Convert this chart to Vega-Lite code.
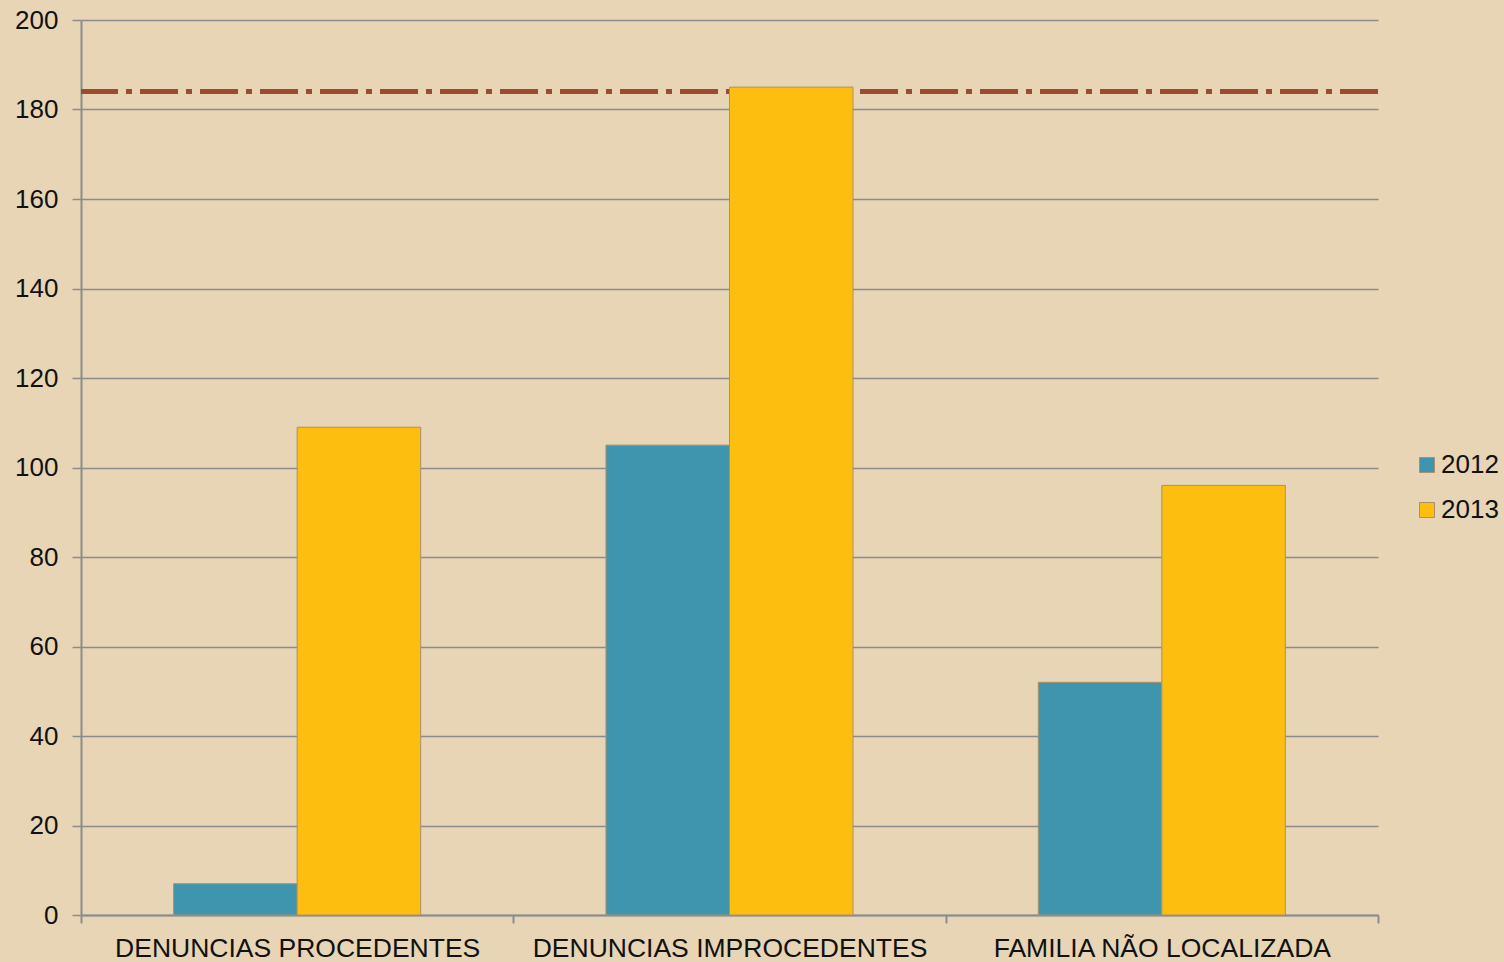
{
  "$schema": "https://vega.github.io/schema/vega-lite/v6.json",
  "width": 1297,
  "height": 895,
  "autosize": {"type": "none"},
  "padding": {"left": 81, "top": 20, "right": 126, "bottom": 47},
  "background": "#e7d5b5",
  "config": {
    "view": {"stroke": null},
    "font": "Liberation Sans"
  },
  "data": {
    "values": [
      {"categoria": "DENUNCIAS PROCEDENTES", "ano": "2012", "valor": 7},
      {"categoria": "DENUNCIAS PROCEDENTES", "ano": "2013", "valor": 109},
      {"categoria": "DENUNCIAS IMPROCEDENTES", "ano": "2012", "valor": 105},
      {"categoria": "DENUNCIAS IMPROCEDENTES", "ano": "2013", "valor": 185},
      {"categoria": "FAMILIA NÃO LOCALIZADA", "ano": "2012", "valor": 52},
      {"categoria": "FAMILIA NÃO LOCALIZADA", "ano": "2013", "valor": 96}
    ]
  },
  "layer": [
    {
      "mark": {"type": "rule", "color": "#9b4b32", "strokeWidth": 4, "strokeDash": [38, 8, 6, 8]},
      "encoding": {"y": {"datum": 184, "type": "quantitative"}}
    },
    {
      "mark": {"type": "bar", "stroke": "#a8916c", "strokeWidth": 1},
      "encoding": {
        "x": {
          "field": "categoria",
          "type": "nominal",
          "sort": null,
          "scale": {"paddingInner": 0, "paddingOuter": 0},
          "axis": {
            "title": null,
            "labelAngle": 0,
            "labelLimit": 0,
            "labelFont": "Liberation Sans",
            "labelFontSize": 26.5,
            "labelColor": "#111111",
            "labelPadding": 12,
            "tickBand": "extent",
            "tickSize": 8,
            "tickColor": "#8c8c8c",
            "tickWidth": 2,
            "domainColor": "#8c8c8c",
            "domainWidth": 2
          }
        },
        "xOffset": {"field": "ano", "type": "nominal", "scale": {"paddingInner": 0, "paddingOuter": 0.75}},
        "y": {
          "field": "valor",
          "type": "quantitative",
          "scale": {"domain": [0, 200]},
          "axis": {
            "title": null,
            "values": [0, 20, 40, 60, 80, 100, 120, 140, 160, 180, 200],
            "labelFont": "Liberation Sans",
            "labelFontSize": 26,
            "labelColor": "#111111",
            "labelPadding": 14,
            "tickSize": 9,
            "tickColor": "#8c8c8c",
            "tickWidth": 1.5,
            "domainColor": "#8c8c8c",
            "domainWidth": 2,
            "grid": true,
            "gridColor": "#8c8c8c",
            "gridWidth": 1.5
          }
        },
        "color": {
          "field": "ano",
          "type": "nominal",
          "scale": {"domain": ["2012", "2013"], "range": ["#3f95ae", "#fdbe10"]},
          "legend": {
            "title": null,
            "orient": "none",
            "legendX": 1333,
            "legendY": 432,
            "symbolType": "square",
            "symbolSize": 225,
            "symbolStrokeColor": "#a8916c",
            "symbolStrokeWidth": 1,
            "labelFont": "Liberation Sans",
            "labelFontSize": 26,
            "labelColor": "#111111",
            "labelOffset": 1,
            "rowPadding": 19
          }
        }
      }
    }
  ]
}
